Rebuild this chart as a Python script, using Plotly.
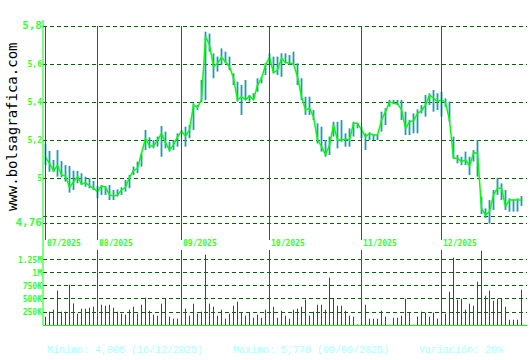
import plotly.graph_objects as go
import pandas as pd

# ---------------- data ----------------
CLOSE = [5.109, 5.077, 5.037, 5.067, 5.016, 5.011, 4.951, 4.981, 5.007, 4.968,
         4.975, 4.958, 4.946, 4.928, 4.958, 4.951, 4.911, 4.905, 4.911, 4.937,
         4.951, 5.004, 5.039, 5.051, 5.125, 5.209, 5.168, 5.168, 5.200, 5.235,
         5.186, 5.147, 5.174, 5.217, 5.244, 5.221, 5.253, 5.384, 5.372, 5.411,
         5.745, 5.700, 5.586, 5.604, 5.635, 5.612, 5.586, 5.525, 5.411, 5.428,
         5.411, 5.432, 5.411, 5.489, 5.525, 5.595, 5.635, 5.554, 5.568, 5.630,
         5.607, 5.607, 5.600, 5.533, 5.428, 5.358, 5.367, 5.323, 5.200, 5.165,
         5.121, 5.174, 5.279, 5.200, 5.200, 5.204, 5.200, 5.288, 5.288, 5.253,
         5.218, 5.235, 5.226, 5.226, 5.305, 5.349, 5.402, 5.393, 5.389, 5.360,
         5.261, 5.296, 5.302, 5.340, 5.354, 5.384, 5.437, 5.419, 5.402, 5.411,
         5.396, 5.305, 5.104, 5.104, 5.086, 5.095, 5.063, 5.130, 5.133, 4.840,
         4.805, 4.823, 4.911, 4.946, 4.946, 4.849, 4.884, 4.884, 4.884, 4.884]

HIGH = [5.182, 5.142, 5.095, 5.147, 5.089, 5.068, 5.063, 5.039, 5.037, 5.025,
        5.007, 4.998, 4.984, 4.958, 4.963, 4.958, 4.963, 4.937, 4.940, 4.951,
        4.989, 5.016, 5.060, 5.086, 5.130, 5.253, 5.214, 5.200, 5.218, 5.274,
        5.244, 5.191, 5.200, 5.235, 5.253, 5.270, 5.279, 5.393, 5.384, 5.516,
        5.770, 5.760, 5.656, 5.639, 5.682, 5.665, 5.639, 5.551, 5.507, 5.489,
        5.516, 5.437, 5.446, 5.525, 5.533, 5.604, 5.656, 5.639, 5.639, 5.656,
        5.656, 5.647, 5.665, 5.604, 5.525, 5.428, 5.428, 5.358, 5.288, 5.270,
        5.200, 5.218, 5.296, 5.296, 5.305, 5.235, 5.261, 5.296, 5.288, 5.270,
        5.235, 5.240, 5.230, 5.230, 5.349, 5.367, 5.411, 5.411, 5.411, 5.411,
        5.349, 5.305, 5.340, 5.361, 5.384, 5.437, 5.446, 5.463, 5.446, 5.454,
        5.419, 5.402, 5.218, 5.121, 5.112, 5.139, 5.112, 5.147, 5.200, 4.902,
        4.840, 4.884, 4.937, 5.000, 4.972, 4.937, 4.893, 4.888, 4.893, 4.905]

LOW = [5.068, 5.033, 5.033, 5.007, 5.004, 4.981, 4.923, 4.937, 4.972, 4.963,
       4.954, 4.946, 4.937, 4.893, 4.911, 4.911, 4.884, 4.884, 4.902, 4.911,
       4.928, 4.946, 5.016, 5.025, 5.060, 5.147, 5.156, 5.156, 5.165, 5.112,
       5.156, 5.139, 5.147, 5.165, 5.235, 5.165, 5.209, 5.253, 5.358, 5.400,
       5.410, 5.665, 5.525, 5.560, 5.595, 5.604, 5.568, 5.489, 5.402, 5.332,
       5.411, 5.402, 5.411, 5.454, 5.498, 5.542, 5.595, 5.551, 5.542, 5.533,
       5.604, 5.595, 5.595, 5.489, 5.411, 5.332, 5.332, 5.305, 5.182, 5.139,
       5.112, 5.121, 5.218, 5.156, 5.191, 5.165, 5.165, 5.218, 5.261, 5.209,
       5.147, 5.200, 5.200, 5.200, 5.244, 5.279, 5.375, 5.390, 5.384, 5.305,
       5.226, 5.226, 5.235, 5.235, 5.340, 5.323, 5.384, 5.349, 5.358, 5.323,
       5.375, 5.296, 5.104, 5.077, 5.068, 5.068, 5.016, 5.086, 5.007, 4.810,
       4.790, 4.760, 4.832, 4.911, 4.884, 4.832, 4.823, 4.823, 4.823, 4.853]

VOLUME_K = [160, 256, 294, 660, 256, 256, 775, 416, 217, 313,
            313, 333, 352, 448, 390, 371, 390, 333, 256, 217,
            198, 294, 352, 217, 390, 525, 275, 198, 179, 410,
            506, 160, 121, 121, 256, 313, 179, 410, 217, 256,
            1352, 410, 352, 179, 294, 121, 217, 371, 448, 237,
            179, 237, 140, 198, 140, 294, 198, 352, 140, 275,
            179, 121, 294, 313, 352, 487, 179, 256, 390, 390,
            294, 910, 506, 371, 371, 275, 179, 160, 10, 256,
            390, 121, 121, 121, 275, 160, 5, 140, 140, 179,
            506, 237, 5, 160, 256, 237, 160, 237, 121, 294,
            217, 640, 1294, 487, 506, 294, 410, 371, 833, 1429,
            563, 660, 467, 506, 506, 352, 102, 102, 102, 679]

PRICE_TICKS = [4.76, 4.8, 5.0, 5.2, 5.4, 5.6, 5.8]
PRICE_TICK_TEXT = ["<span style='font-size:11px'><b>4,76</b></span>", "",
                   "<b>5</b>", "<b>5,2</b>", "<b>5,4</b>", "<b>5,6</b>",
                   "<span style='font-size:11px'><b>5,8</b></span>"]
VOL_TICKS = [250, 500, 750, 1000, 1250]
VOL_TICK_TEXT = ["<b>250K</b>", "<b>500K</b>", "<b>750K</b>", "<b>1M</b>", "<b>1.25M</b>"]

FOOTER = "Minimo: 4,805 (16/12/2025)     Maximo: 5,770 (09/09/2025)     Variación: 20%"
SITE = "www.bolsagrafica.com"

# trading days (Madrid exchange closed 25-26 Dec)
dates = [d for d in pd.bdate_range("2025-07-15", "2025-12-31")
         if d.strftime("%m-%d") not in ("12-25", "12-26")]
idx = list(range(len(dates)))
month_starts = [i for i in idx if i == 0 or dates[i].month != dates[i - 1].month]
month_labels = [dates[i].strftime("%m/%Y") for i in month_starts]

# ---------------- styles ----------------
LIME = "#00FF00"
TXT_GREEN = "#33FF33"
GRID = "#006600"
MONTH_LINE = "#008000"
TEAL = "#1E9BB0"
RED = "#E00000"
FOOT = "#AAFFFF"
MONO = "DejaVu Sans Mono"

PRICE_RANGE = [4.6737, 5.8316]
VOL_RANGE = [0, 1442]

fig = go.Figure()

# high-low range sticks
hx, hy = [], []
for i, h, l in zip(idx, HIGH, LOW):
    hx += [i, i, None]
    hy += [l, h, None]
fig.add_trace(go.Scatter(x=hx, y=hy, mode="lines", line=dict(color=TEAL, width=1.8),
                         xaxis="x", yaxis="y", hoverinfo="skip"))
# close line
fig.add_trace(go.Scatter(x=idx, y=CLOSE, mode="lines", line=dict(color=LIME, width=1.5),
                         xaxis="x", yaxis="y"))
# volume sticks (1px bars)
vx, vy = [], []
for i, v in zip(idx, VOLUME_K):
    vx += [i, i, None]
    vy += [0, v, None]
fig.add_trace(go.Scatter(x=vx, y=vy, mode="lines", line=dict(color=RED, width=1),
                         xaxis="x", yaxis="y2", hoverinfo="skip"))

shapes = []
for i in month_starts:
    shapes.append(dict(type="line", xref="x", yref="y", x0=i, x1=i,
                       y0=PRICE_RANGE[0], y1=5.8, line=dict(color=MONTH_LINE, width=1)))
    if i > 0:
        shapes.append(dict(type="line", xref="x", yref="y2 domain", x0=i, x1=i,
                           y0=0, y1=1, line=dict(color=MONTH_LINE, width=1)))
shapes.append(dict(type="line", xref="paper", yref="paper", x0=0, x1=0, y0=0, y1=1,
                   line=dict(color=LIME, width=1)))

annotations = []
for i, lab in zip(month_starts, month_labels):
    annotations.append(dict(x=i, xref="x", y=0.2656, yref="paper", text="<b>" + lab + "</b>",
                            showarrow=False, xanchor="left", yanchor="middle", xshift=-1,
                            font=dict(family=MONO, size=8, color=TXT_GREEN)))
annotations.append(dict(x=-0.064, xref="paper", y=0.649, yref="paper", text=SITE,
                        textangle=-90, showarrow=False, xanchor="center", yanchor="middle",
                        font=dict(family=MONO, size=14, color="#000000")))
annotations.append(dict(x=0.004, xref="paper", y=-0.0852, yref="paper", text=FOOTER,
                        showarrow=False, xanchor="left", yanchor="middle",
                        font=dict(family="Liberation Mono", size=10, color=FOOT)))

fig.update_layout(
    width=530, height=360,
    margin=dict(l=43, r=3, t=20, b=35),
    paper_bgcolor="white", plot_bgcolor="white",
    showlegend=False,
    xaxis=dict(range=[-0.625, 120.375], anchor="y2", showgrid=False, zeroline=False,
               showticklabels=False, showline=True, linecolor=LIME, linewidth=1, ticks=""),
    yaxis=dict(domain=[0.2787, 1], range=PRICE_RANGE, anchor="x",
               tickvals=PRICE_TICKS, ticktext=PRICE_TICK_TEXT,
               showgrid=True, gridcolor=GRID, griddash="4px,3px", gridwidth=1,
               zeroline=False, showline=False, ticks="",
               tickfont=dict(family=MONO, size=8, color=TXT_GREEN)),
    yaxis2=dict(domain=[0, 0.2459], range=VOL_RANGE, anchor="x",
                tickvals=VOL_TICKS, ticktext=VOL_TICK_TEXT,
                showgrid=True, gridcolor=GRID, griddash="4px,3px", gridwidth=1,
                zeroline=False, showline=False, ticks="",
                tickfont=dict(family=MONO, size=8, color=TXT_GREEN)),
    shapes=shapes,
    annotations=annotations,
)

fig.write_html("out.html")
